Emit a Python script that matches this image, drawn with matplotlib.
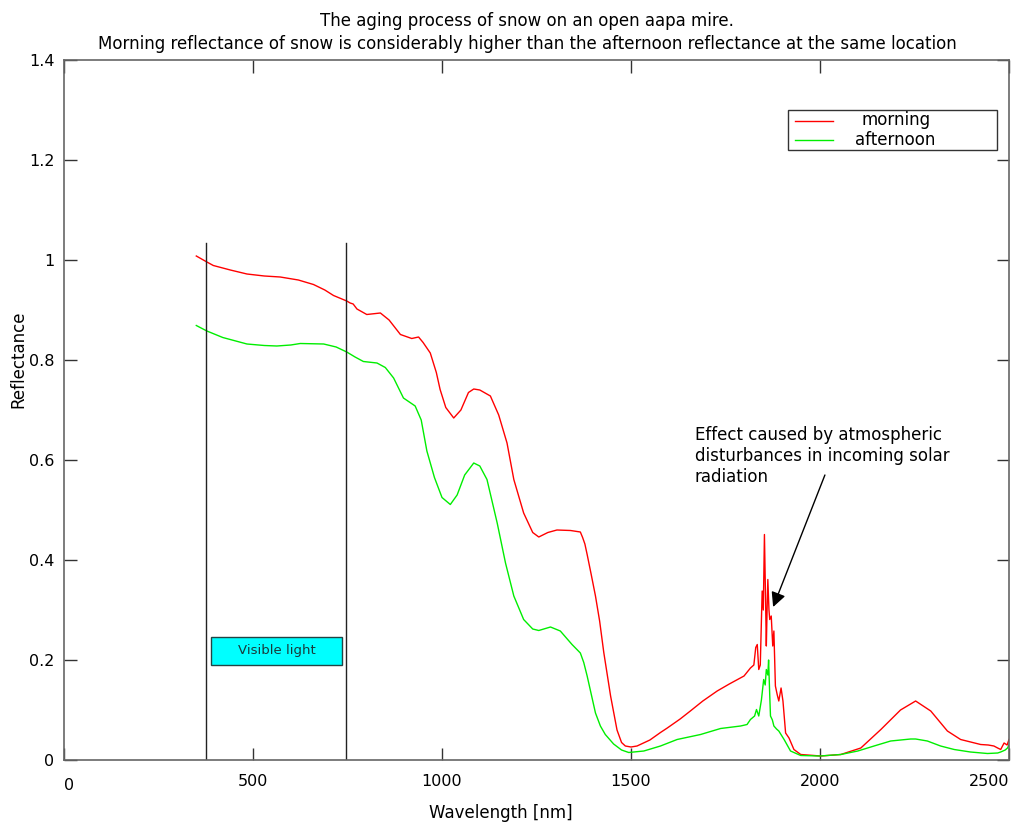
import matplotlib
matplotlib.use("Agg")
import matplotlib.pyplot as plt
from matplotlib.patches import Rectangle
from matplotlib.transforms import ScaledTranslation

# ---------------- data ----------------
morning_wl = [350, 378, 395, 440, 484, 530, 572, 620, 660, 690, 713, 748, 757, 765, 775,
              801, 837, 860, 890, 920, 938, 950, 969, 985, 995, 1010, 1031, 1050, 1070,
              1084, 1100, 1128, 1150, 1172, 1190, 1216, 1240, 1256, 1280, 1304, 1340,
              1366, 1372, 1378, 1384, 1395, 1406, 1417, 1428, 1446, 1463, 1475, 1485,
              1500, 1516, 1550, 1578, 1596, 1630, 1657, 1690, 1728, 1760, 1799, 1816,
              1825, 1830, 1834, 1838, 1842, 1847, 1850, 1853, 1856, 1858, 1860, 1862,
              1865, 1867, 1871, 1875, 1878, 1882, 1887, 1891, 1897, 1902, 1909, 1918,
              1931, 1949, 2002, 2055, 2108, 2161, 2213, 2253, 2293, 2337, 2372, 2425,
              2445, 2460, 2470, 2478, 2487, 2495, 2500]
morning_refl = [1.008, 0.996, 0.989, 0.980, 0.972, 0.968, 0.966, 0.960, 0.951, 0.940, 0.929,
                0.918, 0.914, 0.912, 0.902, 0.891, 0.894, 0.880, 0.851, 0.843, 0.846,
                0.835, 0.814, 0.775, 0.741, 0.705, 0.684, 0.700, 0.735, 0.742, 0.740,
                0.728, 0.690, 0.634, 0.561, 0.494, 0.455, 0.446, 0.455, 0.460, 0.459,
                0.456, 0.445, 0.432, 0.411, 0.370, 0.328, 0.278, 0.215, 0.128, 0.060,
                0.035, 0.028, 0.026, 0.028, 0.040, 0.055, 0.064, 0.082, 0.098, 0.118,
                0.138, 0.152, 0.168, 0.184, 0.190, 0.225, 0.231, 0.181, 0.190, 0.338,
                0.300, 0.451, 0.320, 0.228, 0.300, 0.361, 0.300, 0.281, 0.288, 0.228,
                0.258, 0.148, 0.130, 0.118, 0.144, 0.118, 0.054, 0.044, 0.021, 0.011,
                0.008, 0.011, 0.024, 0.061, 0.100, 0.118, 0.098, 0.058, 0.041, 0.031,
                0.030, 0.028, 0.024, 0.021, 0.034, 0.030, 0.041]

afternoon_wl = [350, 378, 420, 484, 530, 563, 600, 625, 687, 720, 748, 770, 792, 828, 850,
                872, 898, 929, 945, 960, 980, 1000, 1022, 1040, 1060, 1084, 1100, 1119,
                1146, 1168, 1190, 1216, 1240, 1256, 1287, 1313, 1344, 1366, 1375, 1384,
                1406, 1419, 1432, 1454, 1475, 1494, 1534, 1578, 1622, 1684, 1737, 1790,
                1807, 1816, 1827, 1832, 1838, 1845, 1851, 1855, 1858, 1862, 1864, 1867,
                1869, 1874, 1878, 1885, 1891, 1905, 1922, 1949, 2000, 2055, 2100, 2143,
                2187, 2240, 2253, 2284, 2319, 2355, 2398, 2443, 2470, 2478, 2490, 2496,
                2500]
afternoon_refl = [0.869, 0.858, 0.845, 0.832, 0.829, 0.828, 0.830, 0.833, 0.832, 0.826,
                  0.816, 0.806, 0.797, 0.794, 0.785, 0.764, 0.724, 0.708, 0.680, 0.618,
                  0.565, 0.525, 0.511, 0.530, 0.570, 0.594, 0.588, 0.561, 0.474, 0.394,
                  0.328, 0.281, 0.262, 0.259, 0.266, 0.258, 0.231, 0.214, 0.195, 0.168,
                  0.094, 0.068, 0.051, 0.032, 0.020, 0.015, 0.018, 0.028, 0.041, 0.051,
                  0.063, 0.068, 0.071, 0.081, 0.088, 0.101, 0.088, 0.120, 0.161, 0.150,
                  0.181, 0.170, 0.200, 0.130, 0.088, 0.080, 0.068, 0.062, 0.058, 0.041,
                  0.018, 0.009, 0.008, 0.011, 0.018, 0.028, 0.038, 0.042, 0.042, 0.038,
                  0.028, 0.021, 0.016, 0.013, 0.014, 0.016, 0.020, 0.024, 0.030]

visible_bounds = [376, 746]
x_ticks = [0, 500, 1000, 1500, 2000, 2500]
y_ticks = [0, 0.2, 0.4, 0.6, 0.8, 1.0, 1.2, 1.4]
y_tick_labels = ["0", "0.2", "0.4", "0.6", "0.8", "1", "1.2", "1.4"]
series_labels = ["morning", "afternoon"]
title_text = ("The aging process of snow on an open aapa mire.\n"
              "Morning reflectance of snow is considerably higher than the afternoon "
              "reflectance at the same location")
annot_text = "Effect caused by atmospheric\ndisturbances in incoming solar\nradiation"

# ---------------- figure ----------------
plt.rcParams['font.family'] = ['DejaVu Sans']
W, H = 1034, 823
fig = plt.figure(figsize=(W / 100, H / 100), dpi=100)
ax = fig.add_axes([64 / W, 1 - 760 / H, 945 / W, 700 / H])

ax.plot(morning_wl, morning_refl, color='#ff0000', lw=1.0)
ax.plot(afternoon_wl, afternoon_refl, color='#00ee00', lw=1.0)

for xv in visible_bounds:
    ax.plot([xv, xv], [0, 1.034], color='#222222', lw=1.0)

ax.set_xlim(0, 2500)
ax.set_ylim(0, 1.4)
ax.set_xticks(x_ticks)
ax.set_yticks(y_ticks)
ax.set_yticklabels(y_tick_labels)
ax.tick_params(direction='in', length=9, width=1, colors='#333333', labelcolor='black',
               labelsize=11.5, top=True, right=True)
ax.tick_params(axis='x', pad=10)
ax.tick_params(axis='y', pad=7)
xlabels = ax.get_xticklabels()
xlabels[0].set_ha('left')
xlabels[0].set_transform(xlabels[0].get_transform() +
                         ScaledTranslation(0, -4.5 / 100, fig.dpi_scale_trans))
xlabels[-1].set_ha('right')
for s in ax.spines.values():
    s.set_color('#666666')
    s.set_linewidth(1.2)

# Visible light box
ax.add_patch(Rectangle((389, 0.19), 347, 0.057, facecolor='#00ffff', edgecolor='#224444',
                       lw=1.0, zorder=3))
ax.text(562, 0.2195, "Visible light", ha='center', va='center', fontsize=9.5,
        color='#1a3a3a', zorder=4)

# annotation
ax.text(1669, 0.668, annot_text, ha='left', va='top', fontsize=12, linespacing=1.2)
ax.annotate('', xy=(1876, 0.306), xytext=(2013, 0.57),
            arrowprops=dict(arrowstyle='-|>', color='black', lw=1.0,
                            mutation_scale=22, shrinkA=0, shrinkB=0))

# legend (drawn manually in axes coordinates)
ax.add_patch(Rectangle((0.766, 0.871), 0.221, 0.058, transform=ax.transAxes,
                       facecolor='white', edgecolor='#333333', lw=1.0, zorder=5))
ax.plot([0.7735, 0.8138], [0.913, 0.913], transform=ax.transAxes, color='#ff0000',
        lw=1.0, zorder=6)
ax.plot([0.7735, 0.8138], [0.886, 0.886], transform=ax.transAxes, color='#00ee00',
        lw=1.0, zorder=6)
ax.text(0.880, 0.914, series_labels[0], transform=ax.transAxes, ha='center',
        va='center', fontsize=12, zorder=6)
ax.text(0.880, 0.886, series_labels[1], transform=ax.transAxes, ha='center',
        va='center', fontsize=12, zorder=6)

# titles and axis labels
fig.text(527 / W, 1 - 12 / H, title_text, ha='center', va='top', fontsize=12,
         linespacing=1.35)
fig.text(501 / W, 1 - 813 / H, "Wavelength [nm]", ha='center', va='center', fontsize=12)
fig.text(18 / W, 1 - 359 / H, "Reflectance", ha='center', va='center', rotation=90,
         fontsize=12)

fig.savefig("out.png", dpi=100)
